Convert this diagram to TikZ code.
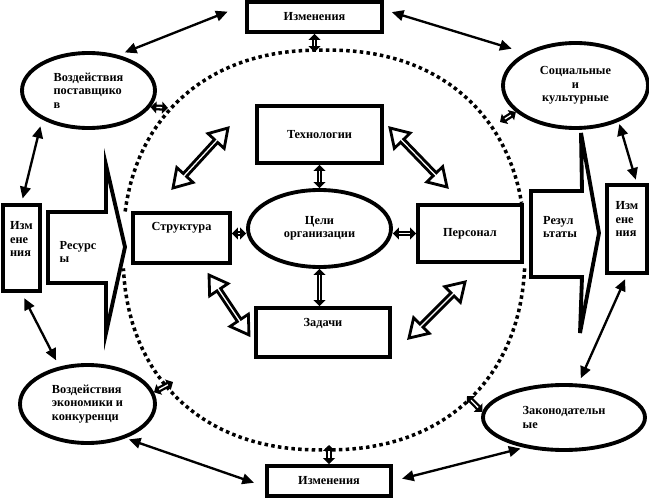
\documentclass[tikz,border=0pt]{standalone}
\usepackage{fontspec}
\setmainfont{Liberation Serif}
\usetikzlibrary{arrows.meta,shapes.geometric,shapes.arrows}

\begin{document}
\begin{tikzpicture}[x=0.3mm,y=-0.3mm,
        font=\bfseries\fontsize{10.5}{11.5}\selectfont,
        box/.style={draw,line width=3.3pt,fill=white,inner sep=0pt},
        oval/.style={ellipse,draw,line width=3.3pt,fill=white,inner sep=0pt},
        ring/.style={line width=3pt,dash pattern=on 3pt off 2.8pt},
        link/.style={line width=2pt,{Triangle[length=10pt,width=9pt]}-{Triangle[length=10pt,width=9pt]}},
        dlink/.style={line width=5pt,{Triangle[length=5pt,width=10pt]}-{Triangle[length=5pt,width=10pt]},
          postaction={draw=white,line width=1.1pt,-,shorten <=5pt,shorten >=5pt}},
        hollow/.style={double arrow,draw,line width=2.4pt,fill=white,inner sep=0pt,minimum width=6.6mm,
          double arrow head extend=1.7mm,double arrow tip angle=64}]
        \useasboundingbox (0,0) rectangle (649,499);
        % Кольцо
        \draw[ring] plot[domain=3.8:176.2,samples=60,variable=\t]
          ({324+201*sign(cos(\t))*pow(abs(cos(\t)),0.887)},{250+200*sign(sin(\t))*pow(abs(sin(\t)),0.887)});
        \draw[ring] plot[domain=188.9:348.7,samples=61,variable=\t]
          ({324+201*sign(cos(\t))*pow(abs(cos(\t)),0.887)},{250+200*sign(sin(\t))*pow(abs(sin(\t)),0.887)});
        \coordinate (pN) at (313,52);
        \coordinate (pS) at (329,445);
        \coordinate (pNW) at (168,108);
        \coordinate (pNE) at (500,122);
        \coordinate (pSW) at (173,382);
        \coordinate (pSE) at (467,396);
        % Ресурсы и результаты
        \draw[line width=3.3pt,fill=white] (48,212) -- (106,212) -- (106,165) -- (125,247) -- (106,333) -- (106,283) -- (48,283) -- cycle;
        \node[align=left] (res) at (78,252) {Ресурс\\ы};
        \draw[line width=3.3pt,fill=white] (531,191) -- (582,191) -- (581,133) -- (599,233) -- (580,333) -- (582,277) -- (531,277) -- cycle;
        \node[align=left] (out) at (560,227) {Резул\\ьтаты};
        % Внешняя среда
        \node[box,minimum width=40.5mm,minimum height=9mm] (chtop) at (314.5,17) {Изменения};
        \node[box,minimum width=37.2mm,minimum height=9mm] (chbot) at (329,481) {Изменения};
        \node[box,minimum width=11.1mm,minimum height=25.8mm,
          label={[align=left,yshift=7.7pt]center:Изм\\ене\\ния}] (chleft) at (21.5,248) {};
        \node[box,minimum width=12mm,minimum height=26.4mm,
          label={[align=left,yshift=8.5pt]center:Изм\\ене\\ния}] (chright) at (627,229) {};
        \node[oval,align=left,minimum width=39.9mm,minimum height=22.5mm] (supp) at (88.5,90.5) {Воздействия\\поставщико\\в};
        \node[oval,align=center,minimum width=43.5mm,minimum height=25.5mm] (soc) at (575.5,85.5) {Социальные\\и\\культурные};
        \node[oval,align=left,minimum width=40.5mm,minimum height=23.4mm] (econ) at (87.5,404) {Воздействия\\экономики и\\конкуренци};
        \node[oval,align=left,minimum width=48.6mm,minimum height=19.5mm] (law) at (564,417.5) {Законодательн\\ые};
        % Организация
        \node[box,minimum width=37.5mm,minimum height=17.1mm] (tech) at (319.5,134.5) {Технологии};
        \node[box,minimum width=40.2mm,minimum height=14.7mm,
          label={[yshift=8pt]center:Задачи}] (task) at (323,332.5) {};
        \node[box,minimum width=29.1mm,minimum height=15mm,
          label={[yshift=8.5pt]center:Структура}] (struct) at (181.5,238) {};
        \node[box,minimum width=31.2mm,minimum height=17.1mm] (staff) at (470,233.5) {Персонал};
        \node[oval,align=center,minimum width=42.9mm,minimum height=23.1mm] (goal) at (319.5,228.5) {Цели\\организации};
        % Связи
        \draw[link,shorten <=6pt,shorten >=16pt] (supp.50) -- (chtop.170);
        \draw[link,shorten <=7pt,shorten >=12pt] (chtop.6) -- (soc.147);
        \draw[link,shorten <=6pt,shorten >=4pt] (supp.212) -- (chleft.north);
        \draw[link,shorten <=5pt,shorten >=6pt] (chleft.south) -- (econ.127);
        \draw[link,shorten <=3pt,shorten >=10pt] (econ.318) -- (chbot.185);
        \draw[link,shorten <=8pt,shorten >=3pt] (chbot.east) -- (law.217);
        \draw[link,shorten <=4pt,shorten >=5pt] (chright.south) -- (law.67);
        \draw[link,shorten <=2pt,shorten >=3pt] (soc.320) -- (chright.78);
        % Выход на кольцо
        \draw[dlink] (chtop.south) -- (chtop.south |- pN);
        \draw[dlink] (chbot.north) -- (chbot.north |- pS);
        \draw[dlink] (supp.345) -- (pNW);
        \draw[dlink] (soc.204) -- (pNE);
        \draw[dlink] (econ.10) -- (pSW);
        \draw[dlink] (law.176) -- (pSE);
        % Внутри
        \draw[dlink] (tech.south) -- (goal.north);
        \draw[dlink] (goal.south) -- (goal.south |- task.north);
        \draw[dlink] (struct.east |- staff.west) -- (goal.west |- staff.west);
        \draw[dlink] (goal.east |- staff.west) -- (staff.west);
        \node[hollow,minimum height=24.4mm,rotate=47.5] (hNW) at (200.5,158) {};
        \node[hollow,minimum height=24.6mm,rotate=-46] (hNE) at (418.5,157.5) {};
        \node[hollow,minimum height=21.6mm,rotate=-56.3] (hSW) at (229,305) {};
        \node[hollow,minimum height=23.8mm,rotate=45] (hSE) at (437,310) {};
\end{tikzpicture}
\end{document}
